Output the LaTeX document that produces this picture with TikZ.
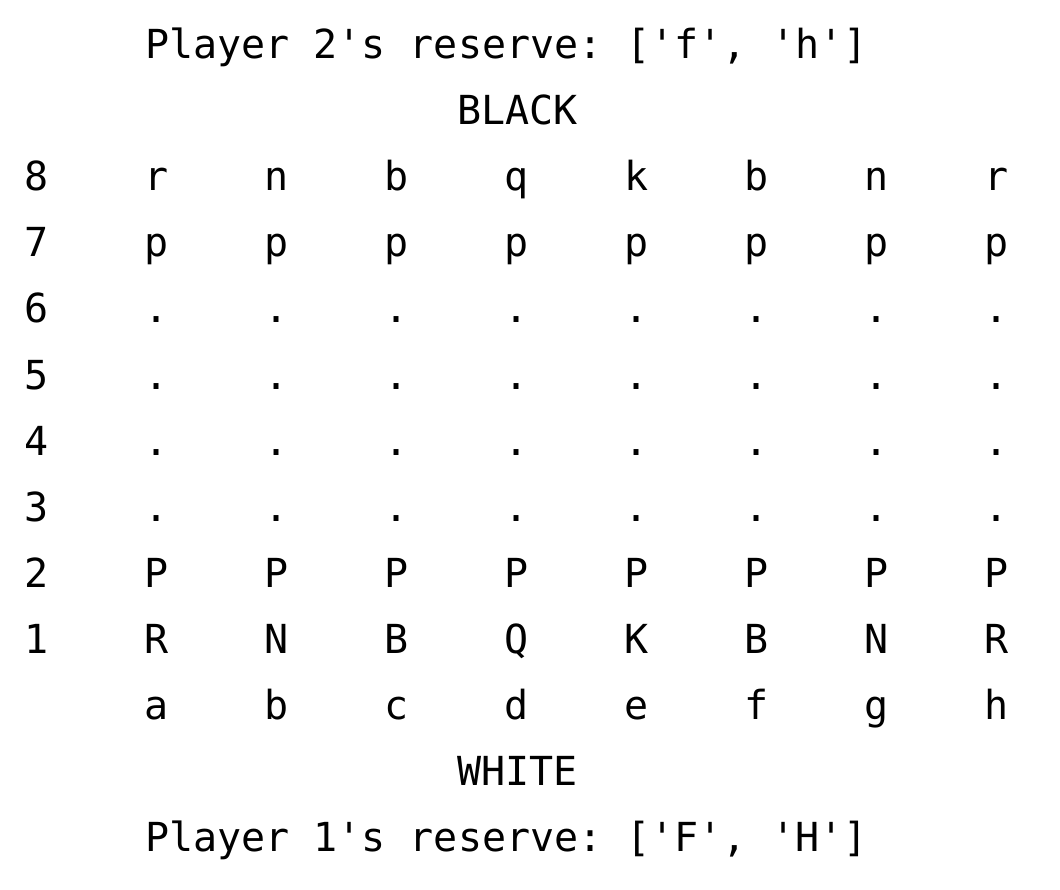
\documentclass[tikz,border=0pt]{standalone}
\usepackage{fontspec}
\setmonofont{DejaVu Sans Mono}
\begin{document}
\begin{tikzpicture}[x=1pt,y=-1pt,
  txt/.style={inner sep=0pt,outer sep=0pt,font=\ttfamily\fontsize{40}{48}\selectfont},
  cell/.style={txt,anchor=base},
  line/.style={txt,anchor=base west}]
\useasboundingbox (0,0) rectangle (1060,890);
\fill[white] (0,0) rectangle (1060,890);
\node[line] (p2) at (145,59) {Player 2's reserve: ['f', 'h']};
\node[line] (black) at (457,125) {BLACK};
% rank labels
\foreach \r [count=\k from 0] in {8,7,6,5,4,3,2,1}
  \node[cell] (rank\r) at (37,{59+66*(2+\k)}) {\r};
% pieces
\foreach \p [count=\j from 0] in {r,n,b,q,k,b,n,r}
  \node[cell] (s8c\j) at ({157+120*\j},{59+66*2}) {\p};
\foreach \j in {0,...,7}{
  \node[cell] (s7c\j) at ({157+120*\j},{59+66*3}) {p};
  \node[cell] (s6c\j) at ({157+120*\j},{59+66*4}) {.};
  \node[cell] (s5c\j) at ({157+120*\j},{59+66*5}) {.};
  \node[cell] (s4c\j) at ({157+120*\j},{59+66*6}) {.};
  \node[cell] (s3c\j) at ({157+120*\j},{59+66*7}) {.};
  \node[cell] (s2c\j) at ({157+120*\j},{59+66*8}) {P};
}
\foreach \p [count=\j from 0] in {R,N,B,Q,K,B,N,R}
  \node[cell] (s1c\j) at ({157+120*\j},{59+66*9}) {\p};
\foreach \f [count=\j from 0] in {a,b,c,d,e,f,g,h}
  \node[cell] (file\f) at ({157+120*\j},{59+66*10}) {\f};
\node[line] (white) at (457,{59+66*11}) {WHITE};
\node[line] (p1) at (145,{59+66*12}) {Player 1's reserve: ['F', 'H']};
\end{tikzpicture}
\end{document}
